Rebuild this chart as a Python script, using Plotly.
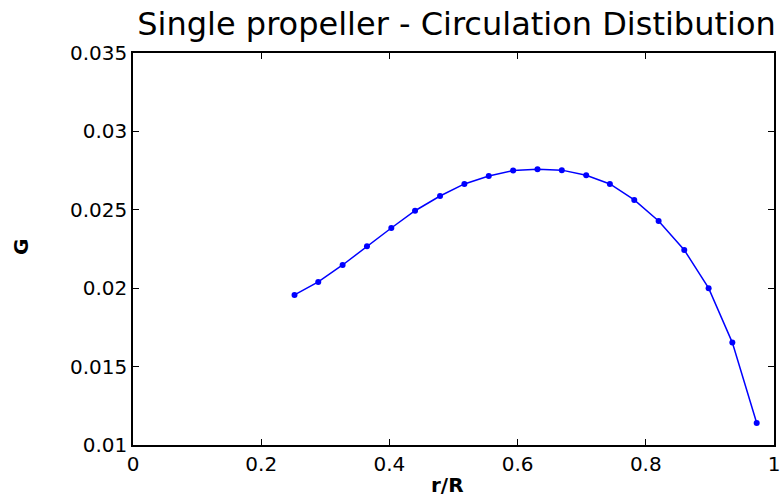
import plotly.graph_objects as go

# r/R stations and circulation values
r_R = [0.252, 0.289, 0.327, 0.365, 0.403, 0.440, 0.479, 0.517, 0.555, 0.593,
       0.631, 0.669, 0.707, 0.744, 0.782, 0.820, 0.860, 0.898, 0.935, 0.973]
G = [0.01957, 0.02040, 0.02148, 0.02268, 0.02384, 0.02494, 0.02588, 0.02665,
     0.02716, 0.02750, 0.02759, 0.02753, 0.02720, 0.02665, 0.02563, 0.02429,
     0.02244, 0.02000, 0.01653, 0.01140]

x_ticks = [0, 0.2, 0.4, 0.6, 0.8, 1]
x_labels = ["0", "0.2", "0.4", "0.6", "0.8", "1"]
y_ticks = [0.01, 0.015, 0.02, 0.025, 0.03, 0.035]
y_labels = ["0.01", "0.015", "0.02", "0.025", "0.03", "0.035"]

FONT = "DejaVu Sans"
W, H = 783, 498
L, R, T, B = 133, 9, 53, 53

fig = go.Figure()
fig.add_trace(go.Scatter(x=r_R, y=G, mode="lines+markers",
                         line=dict(color="#0000ff", width=1.5),
                         marker=dict(color="#0000ff", size=6),
                         showlegend=False))

axis_style = dict(showline=True, linecolor="black", linewidth=1.5, mirror="ticks",
                  ticks="inside", ticklen=6, tickwidth=1, tickcolor="black",
                  showgrid=False, zeroline=False, automargin=False,
                  tickfont=dict(family=FONT, size=20, color="black"))

fig.update_xaxes(range=[0, 1], tickvals=x_ticks, ticktext=x_labels, **axis_style)
fig.update_yaxes(range=[0.01, 0.035], tickvals=y_ticks, ticktext=y_labels, **axis_style)

# axis labels placed like the MATLAB original
fig.add_annotation(text="<b>r/R</b>", xref="paper", yref="paper",
                   x=0.49, y=-(485 - (H - B)) / (H - T - B),
                   showarrow=False, xanchor="center", yanchor="middle",
                   font=dict(family=FONT, size=20, color="black"))
fig.add_annotation(text="<b>G</b>", xref="paper", yref="paper",
                   x=-(L - 21) / (W - L - R), y=1 - (247 - T) / (H - T - B),
                   showarrow=False, xanchor="center", yanchor="middle", textangle=-90,
                   font=dict(family=FONT, size=20, color="black"))

fig.update_layout(
    width=W, height=H,
    margin=dict(l=L, r=R, t=T, b=B),
    plot_bgcolor="white", paper_bgcolor="white",
    title=dict(text="Single propeller - Circulation Distibution",
               font=dict(family=FONT, size=32, color="black"),
               x=456.5 / W, xanchor="center", y=1 - 24 / H, yanchor="middle"),
)

# drop the default page margin so the figure sits at the window's corner
fig.write_html("out.html", config={"displayModeBar": False},
               post_script="document.body.style.margin='0';document.body.style.overflow='hidden';")
